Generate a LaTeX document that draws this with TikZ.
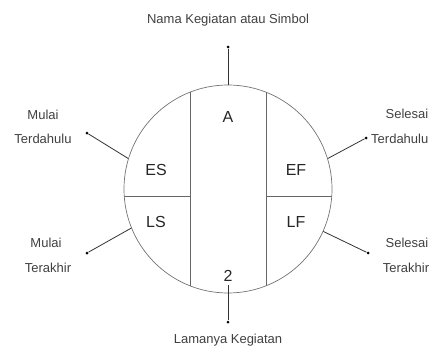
\documentclass[tikz,border=0pt]{standalone}
\usepackage{fontspec}
\setmainfont{Liberation Sans}
\usetikzlibrary{positioning,calc}

\begin{document}
\begin{tikzpicture}[
    x=1pt, y=-1pt,
    ring/.style={draw=black!55, line width=0.7pt, circle, minimum size=208pt, inner sep=0pt},
    divider/.style={draw=black!60, line width=0.7pt},
    cell/.style={font=\fontsize{16}{18}\selectfont, text=black!85},
    link/.style={draw=black!80, line width=0.8pt},
    dot/.style={circle, fill=black, inner sep=0pt, minimum size=3pt},
    label/.style={font=\fontsize{13}{15}\selectfont, text=black!75},
]
\useasboundingbox (0,0) rectangle (434,351);

% Event node
\node[ring] (act) at (228,189) {};

% Dividers
\begin{scope}
  \clip (228,189) circle (104pt);
  \draw[divider] (190,60) -- (190,320);
  \draw[divider] (266,60) -- (266,320);
  \draw[divider] (100,196) -- (190,196);
  \draw[divider] (266,196) -- (360,196);
\end{scope}

% Cells
\node[cell] (name) at (228,117) {A};
\node[cell] (es) at (156,170) {ES};
\node[cell] (ef) at (296,170) {EF};
\node[cell] (ls) at (156,222) {LS};
\node[cell] (lf) at (296,222) {LF};
\node[cell] (dur) at (228,276) {2};

% Dots
\node[dot] (dtop) at (228,47) {};
\node[dot] (dbot) at (228,322) {};
\node[dot] (dul) at (87,133) {};
\node[dot] (dur2) at (366,138) {};
\node[dot] (dll) at (87,253) {};
\node[dot] (dlr) at (368,253) {};

% Connectors
\draw[link] (act.90) -- (dtop);
\draw[link] (dur.south) -- (dbot);
\draw[link] (act.163) -- (dul);
\draw[link] (act.17) -- (dur2);
\draw[link] (act.202) -- (dll);
\draw[link] (act.-24) -- (dlr);

% Labels
\node[label] (ltop) at (228,20) {Nama Kegiatan atau Simbol};
\node[label] (lbot) at (228,340) {Lamanya Kegiatan};
\node[label] (lul1) at (43,115) {Mulai};
\node[label] (lul2) at (43,139) {Terdahulu};
\node[label] (lur1) at (407,114) {Selesai};
\node[label, anchor=west, inner sep=1pt] (lur2) at (370,139) {Terdahulu};
\node[label] (lll1) at (46,243) {Mulai};
\node[label] (lll2) at (48,268) {Terakhir};
\node[label] (llr1) at (407,243) {Selesai};
\node[label] (llr2) at (406,268) {Terakhir};

\end{tikzpicture}
\end{document}
